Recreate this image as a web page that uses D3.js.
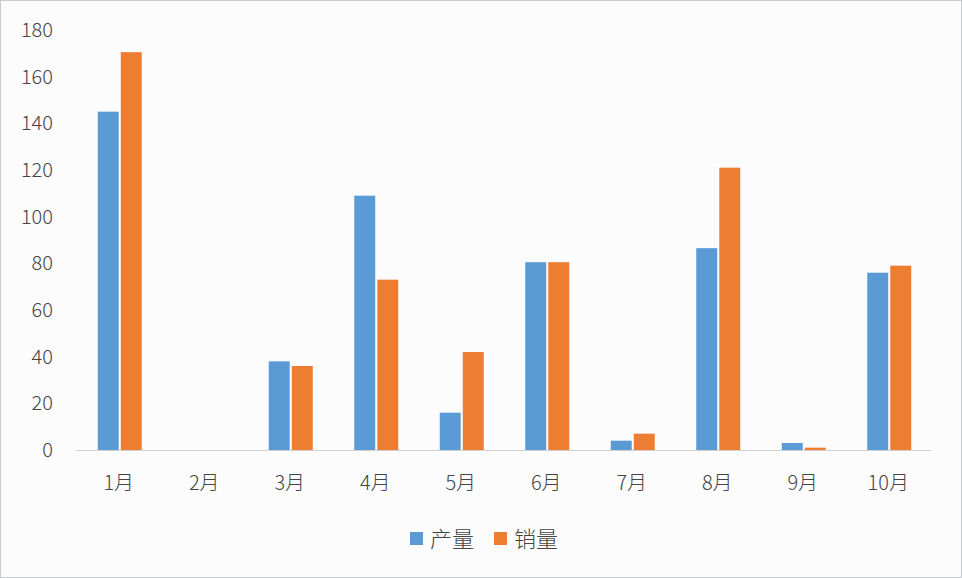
<!DOCTYPE html>
<html>
<head>
<meta charset="utf-8">
<script src="https://cdn.jsdelivr.net/npm/d3@7"></script>
<style>
	body { margin: 0; background: #fff; }
	svg { display: block; }
	text { font-family: "Noto Sans CJK SC", "Noto Sans", sans-serif; fill: #444; }
</style>
</head>
<body>
<div id="chart"></div>
<script>
var months = ["1月", "2月", "3月", "4月", "5月", "6月", "7月", "8月", "9月", "10月"];
var seriesNames = ["产量", "销量"];
var production = [145, 0, 38, 109, 16, 80.5, 4, 86.5, 3, 76];
var sales = [170.5, 0, 36, 73, 42, 80.5, 7, 121, 1, 79];
var yTicks = [0, 20, 40, 60, 80, 100, 120, 140, 160, 180];
var colors = ["#5b9bd5", "#ed7d31"];

var W = 962, H = 578;
var svg = d3.select("#chart").append("svg")
	.attr("width", W)
	.attr("height", H);

svg.append("rect")
	.attr("x", 0.5).attr("y", 0.5)
	.attr("width", W - 1).attr("height", H - 1)
	.attr("fill", "#fcfcfd")
	.attr("stroke", "#c9cad0");

var x = d3.scaleBand()
	.domain(months)
	.range([76, 931]);

var y = d3.scaleLinear()
	.domain([0, 180])
	.range([450, 30]);

var sub = d3.scaleBand()
	.domain(seriesNames)
	.range([0, 44])
	.paddingInner(0.09);

// y tick labels
svg.append("g")
	.selectAll("text")
	.data(yTicks)
	.join("text")
	.attr("x", 53)
	.attr("y", (d) => y(d))
	.attr("dy", "0.35em")
	.attr("text-anchor", "end")
	.attr("font-size", 20)
	.attr("font-weight", 300)
	.text((d) => d);

var data = months.map((m, i) => ({ month: m, values: [production[i], sales[i]] }));

var groups = svg.append("g")
	.selectAll("g")
	.data(data)
	.join("g")
	.attr("transform", (d) => "translate(" + (x(d.month) + x.bandwidth() / 2 - 21) + ",0)");

groups.selectAll("rect")
	.data((d) => d.values.map((v, j) => ({ name: seriesNames[j], v: v, j: j })))
	.join("rect")
	.attr("x", (d) => sub(d.name))
	.attr("width", sub.bandwidth())
	.attr("y", (d) => y(d.v))
	.attr("height", (d) => y(0) - y(d.v))
	.attr("fill", (d) => colors[d.j]);

// x axis line
svg.append("line")
	.attr("x1", 76).attr("x2", 931)
	.attr("y1", y(0) + 0.5).attr("y2", y(0) + 0.5)
	.attr("stroke", "#d0d0d0")
	.attr("stroke-width", 1);

svg.append("g")
	.selectAll("text")
	.data(months)
	.join("text")
	.attr("x", (d) => x(d) + x.bandwidth() / 2)
	.attr("y", 483)
	.attr("dy", "0.35em")
	.attr("text-anchor", "middle")
	.attr("font-size", 20)
	.attr("font-weight", 300)
	.text((d) => d);

// legend
var legendX = [410, 494];
var legend = svg.append("g")
	.selectAll("g")
	.data(seriesNames)
	.join("g")
	.attr("transform", (d, i) => "translate(" + legendX[i] + ",539)");

legend.append("rect")
	.attr("x", 0).attr("y", -7)
	.attr("width", 13).attr("height", 13)
	.attr("fill", (d, i) => colors[i]);

legend.append("text")
	.attr("x", 20)
	.attr("y", 0)
	.attr("dy", "0.35em")
	.attr("font-size", 22)
	.attr("font-weight", 300)
	.text((d) => d);
</script>
</body>
</html>
